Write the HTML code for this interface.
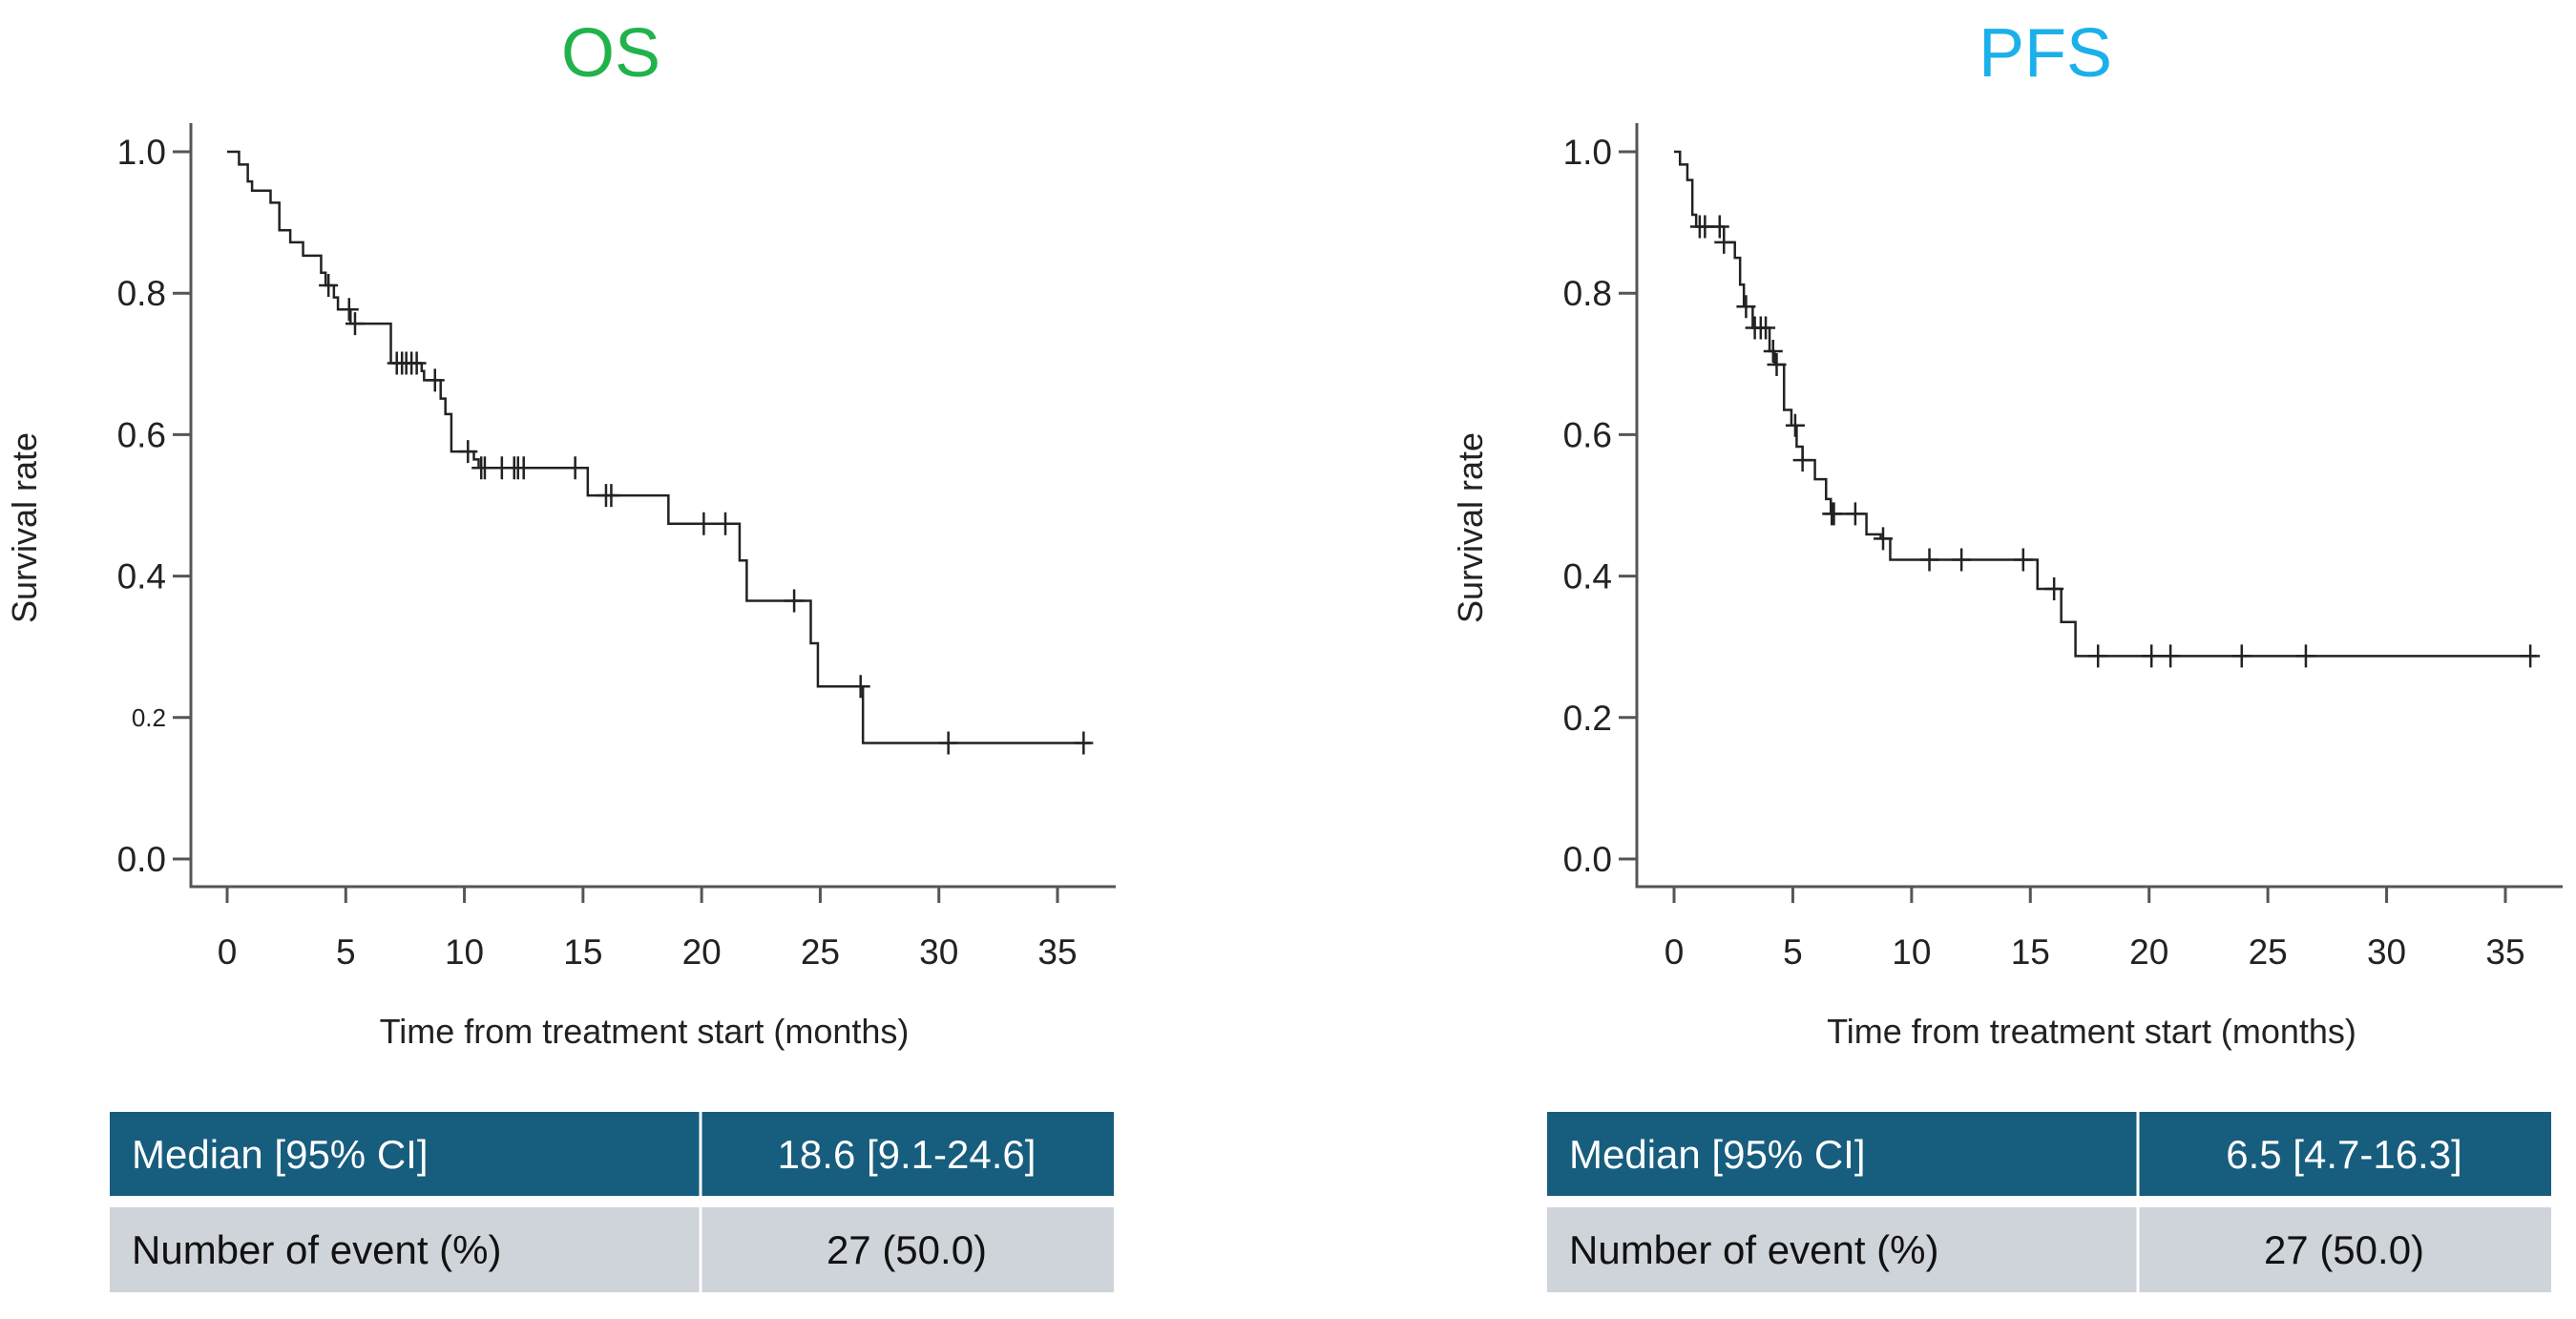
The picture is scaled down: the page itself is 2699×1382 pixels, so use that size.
<!DOCTYPE html>
<html><head><meta charset="utf-8"><style>
html,body{margin:0;padding:0;background:#fff;}
svg{display:block;font-family:"Liberation Sans",sans-serif;}
</style></head><body>
<svg id="svg" width="2699" height="1382" viewBox="0 0 2699 1382" xmlns="http://www.w3.org/2000/svg">
<text x="640" y="80" font-size="72" fill="#22b24c" text-anchor="middle">OS</text>
<text x="2143" y="80" font-size="72" fill="#1cb0ea" text-anchor="middle">PFS</text>

<g>
<rect x="115" y="1165" width="1052" height="88" fill="#175d7e"/>
<rect x="115" y="1265" width="1052" height="89" fill="#cfd3da"/>
<line x1="734" y1="1165" x2="734" y2="1354" stroke="#fff" stroke-width="3"/>
<text x="138" y="1224" font-size="42" fill="#fff">Median [95% CI]</text>
<text x="950" y="1224" font-size="42" fill="#fff" text-anchor="middle">18.6 [9.1-24.6]</text>
<text x="138" y="1324" font-size="42" fill="#111">Number of event (%)</text>
<text x="950" y="1324" font-size="42" fill="#111" text-anchor="middle">27 (50.0)</text>
</g>
<g>
<rect x="1621" y="1165" width="1052" height="88" fill="#175d7e"/>
<rect x="1621" y="1265" width="1052" height="89" fill="#cfd3da"/>
<line x1="2240" y1="1165" x2="2240" y2="1354" stroke="#fff" stroke-width="3"/>
<text x="1644" y="1224" font-size="42" fill="#fff">Median [95% CI]</text>
<text x="2456" y="1224" font-size="42" fill="#fff" text-anchor="middle">6.5 [4.7-16.3]</text>
<text x="1644" y="1324" font-size="42" fill="#111">Number of event (%)</text>
<text x="2456" y="1324" font-size="42" fill="#111" text-anchor="middle">27 (50.0)</text>
</g>
</svg>
<script>
const xTicks = [0,5,10,15,20,25,30,35];
const yTicks = [0,0.2,0.4,0.6,0.8,1.0];
const yTickLabels = ["0.0","0.2","0.4","0.6","0.8","1.0"];
const osTimes = [0,0.5,0.87,1.05,1.83,2.2,2.66,3.2,3.96,4.15,4.5,4.67,5.2,6.9,8.2,8.3,9.0,9.2,9.45,10.4,10.6,15.2,18.6,21.6,21.9,24.6,24.9,26.8];
const osSurv = [1.0,0.982,0.958,0.945,0.928,0.889,0.872,0.853,0.829,0.811,0.794,0.777,0.757,0.701,0.690,0.677,0.651,0.629,0.576,0.565,0.553,0.514,0.474,0.422,0.365,0.305,0.244,0.164];
const osEnd = 36.4;
const osCensor = [4.27,5.14,5.39,7.15,7.37,7.55,7.77,7.99,8.76,10.15,10.71,10.86,11.58,12.1,12.26,12.5,14.67,15.97,16.19,20.09,21.0,23.9,26.7,30.4,36.1];
const pfsTimes = [0,0.25,0.56,0.77,0.93,2.1,2.56,2.78,2.94,3.31,4.02,4.23,4.63,4.94,5.16,5.41,5.93,6.4,6.6,8.1,8.7,9.1,15.3,16.3,16.9];
const pfsSurv = [1.0,0.982,0.960,0.911,0.894,0.872,0.850,0.812,0.781,0.751,0.718,0.699,0.635,0.613,0.583,0.564,0.537,0.509,0.488,0.459,0.453,0.423,0.382,0.335,0.287];
const pfsEnd = 36.3;
const pfsCensor = [1.08,1.3,1.92,2.1,3.03,3.4,3.65,3.86,4.17,4.32,5.1,5.41,6.64,6.73,7.63,8.8,10.75,12.1,14.7,16.0,17.85,20.1,20.9,23.9,26.6,36.05];

const NS = "http://www.w3.org/2000/svg";
const svg = document.getElementById('svg');
function mk(tag, attrs, parent){const e=document.createElementNS(NS,tag);for(const k in attrs)e.setAttribute(k,attrs[k]);(parent||svg).appendChild(e);return e;}

function panel(prefix, axisX, x0px, x35px, axisRight, times, surv, endT, censor){
  const g = mk('g',{});
  
  
  const X = t => x0px + (x35px - x0px) * t / 35;
  const Y = v => 900 - 741 * v;
  const ax = mk('path',{d:`M${axisX},129 L${axisX},929 L${axisRight},929`,fill:'none',stroke:'#555','stroke-width':3},g);
  
  
  xTicks.forEach(t=>{
    mk('line',{x1:X(t),y1:929,x2:X(t),y2:946,stroke:'#555','stroke-width':3},g);
    const tx = mk('text',{x:X(t),y:1010,'font-size':37,fill:'#222','text-anchor':'middle'},g);
    tx.textContent = t;
    
    
  });
  yTicks.forEach((v,i)=>{
    mk('line',{x1:axisX-19,y1:Y(v),x2:axisX,y2:Y(v),stroke:'#555','stroke-width':3},g);
    const small = prefix==='os' && i===1;
    const tx = mk('text',{x:axisX-26,y:Y(v)+(small?9:13),'font-size':small?26:37,fill:'#222','text-anchor':'end'},g);
    tx.textContent = yTickLabels[i];
    
    
  });
  const xt = mk('text',{x:(x0px+x35px)/2+2,y:1093,'font-size':36,fill:'#222','text-anchor':'middle'},g);
  xt.textContent = 'Time from treatment start  (months)';
  
  
  const yx = axisX-162;
  const yt = mk('text',{x:yx,y:553,'font-size':36,fill:'#222','text-anchor':'middle',transform:`rotate(-90 ${yx} 553)`},g);
  yt.textContent = 'Survival  rate';
  
  
  let d = `M${X(0)},${Y(surv[0])}`;
  for(let i=1;i<times.length;i++){d += ` H${X(times[i])} V${Y(surv[i])}`;}
  d += ` H${X(endT)}`;
  const ln = mk('path',{d:d,fill:'none',stroke:'#222','stroke-width':2.5},g);
  
  
  const sAt = t => {let v=surv[0];for(let i=0;i<times.length;i++){if(times[i]<=t)v=surv[i];}return v;};
  censor.forEach(t=>{
    const cx=X(t), cy=Y(sAt(t));
    const c = mk('path',{d:`M${cx-10},${cy} H${cx+10} M${cx},${cy-12} V${cy+12}`,stroke:'#222','stroke-width':2.5,fill:'none'},g);
    
    
  });
}
panel('os', 200, 238, 1108, 1169, osTimes, osSurv, osEnd, osCensor);
panel('pfs', 1715, 1754, 2625, 2685, pfsTimes, pfsSurv, pfsEnd, pfsCensor);
</script>
</body></html>
